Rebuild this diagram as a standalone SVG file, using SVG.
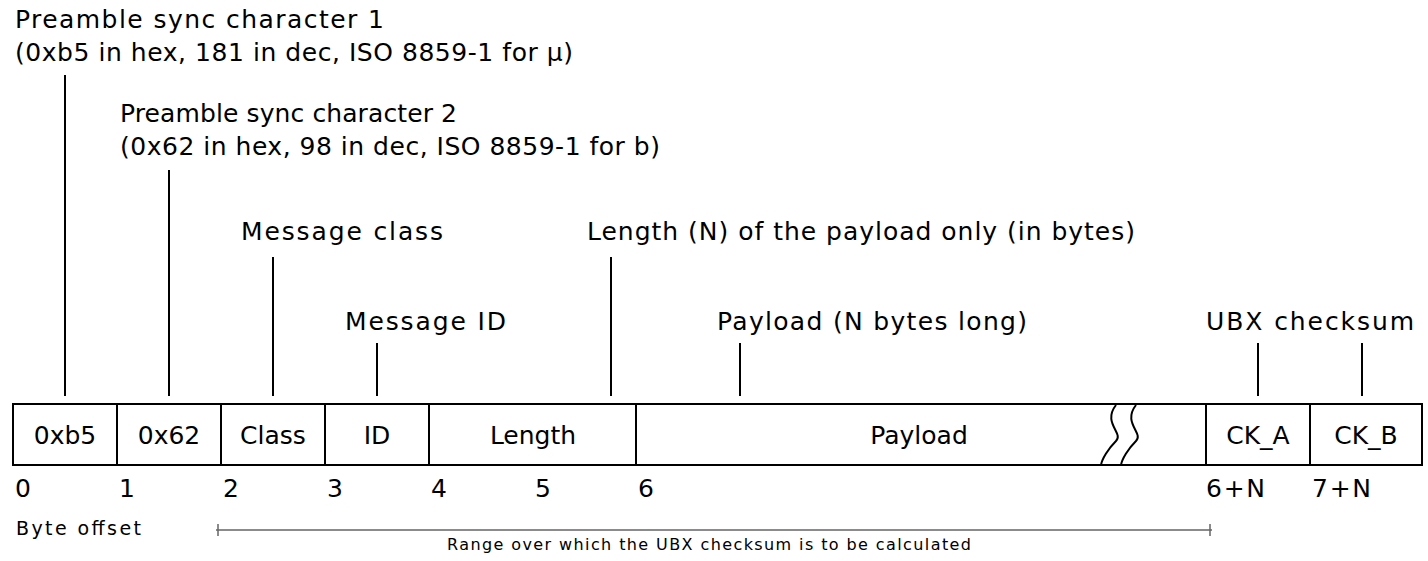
<svg xmlns="http://www.w3.org/2000/svg" width="1428" height="561" viewBox="0 0 1428 561">
<style>
text{font-family:"DejaVu Sans","Liberation Sans",sans-serif;fill:#000}
.l{font-size:25px}
.c{text-anchor:middle}
.ld{stroke:#000;stroke-width:2;fill:none}
.b{stroke:#000;stroke-width:2;fill:#fff}
.r{stroke:#666;stroke-width:1.5}
</style>
<rect width="1428" height="561" fill="#fff"/>
<g id="labels">
<text class="l" x="15" y="28" textLength="369">Preamble sync character 1</text>
<text class="l" x="15" y="61" textLength="558">(0xb5 in hex, 181 in dec, ISO 8859-1 for µ)</text>
<text class="l" x="120" y="122" textLength="337">Preamble sync character 2</text>
<text class="l" x="120" y="155" textLength="540">(0x62 in hex, 98 in dec, ISO 8859-1 for b)</text>
<text class="l" x="241" y="240" textLength="202">Message class</text>
<text class="l" x="345" y="330" textLength="161">Message ID</text>
<text class="l" x="587" y="240" textLength="548">Length (N) of the payload only (in bytes)</text>
<text class="l" x="717" y="330" textLength="310">Payload (N bytes long)</text>
<text class="l" x="1206" y="330" textLength="208">UBX checksum</text>
</g>
<g id="connectors">
<path class="ld" d="M65 75V396M169 170V396M273 257V396M377 343V396M611 257V396M740 343V396M1258 343V396M1362 343V396"/>
</g>
<g id="fields">
<rect class="b" x="13" y="404" width="1409" height="61"/>
<path class="ld" d="M117 404V465M221 404V465M325 404V465M429 404V465M636 404V465M1206 404V465M1310 404V465"/>
<path d="M1116 405c-14 18 8 28 0 36s-14 18 -15 24M1136 405c-14 18 8 28 0 36s-14 18 -15 24" stroke="#000" stroke-width="2" fill="none"/>
<text class="l c" x="65" y="444">0xb5</text>
<text class="l c" x="169" y="444">0x62</text>
<text class="l c" x="273" y="444">Class</text>
<text class="l c" x="377" y="444">ID</text>
<text class="l c" x="533" y="444">Length</text>
<text class="l c" x="919" y="444">Payload</text>
<text class="l c" x="1258" y="444">CK_A</text>
<text class="l c" x="1366" y="444">CK_B</text>
</g>
<g id="offsets">
<text class="l" x="15" y="497">0</text>
<text class="l" x="119" y="497">1</text>
<text class="l" x="223" y="497">2</text>
<text class="l" x="327" y="497">3</text>
<text class="l" x="431" y="497">4</text>
<text class="l" x="535" y="497">5</text>
<text class="l" x="638" y="497">6</text>
<text class="l" x="1206" y="497" textLength="59">6+N</text>
<text class="l" x="1312" y="497" textLength="59">7+N</text>
<text x="16" y="535" font-size="19" textLength="125">Byte offset</text>
</g>
<g id="range">
<path class="r" d="M216 530H1212M218 524V536M1210 524V536"/>
<text x="447" y="550" font-size="16" textLength="524">Range over which the UBX checksum is to be calculated</text>
</g>
</svg>
